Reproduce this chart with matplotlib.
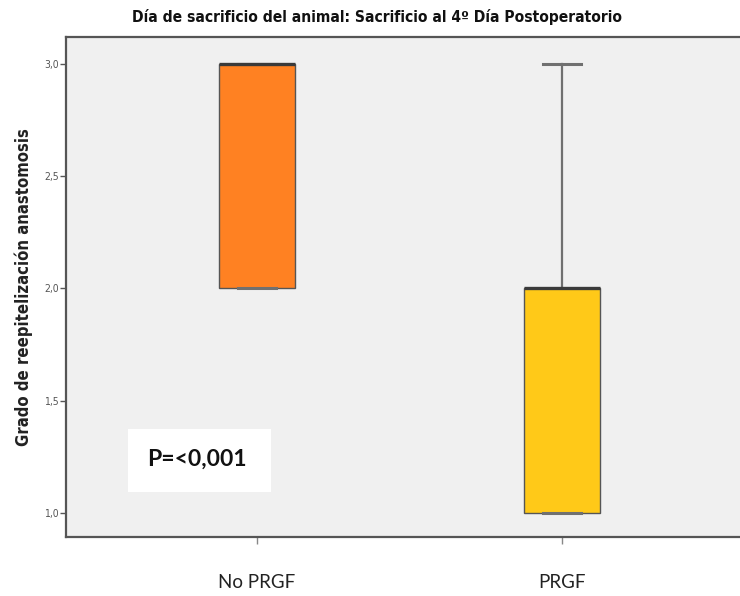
import matplotlib
matplotlib.use("Agg")
import matplotlib.pyplot as plt
from matplotlib.patches import FancyBboxPatch

# Grado de reepitelización por grupo (sacrificio al 4º día)
groups = ["No PRGF", "PRGF"]
q1 = [2.0, 1.0]
medians = [3.0, 2.0]
q3 = [3.0, 2.0]
whisker_low = [2.0, 1.0]
whisker_high = [3.0, 3.0]
box_colors = ["#FF8122", "#FFC918"]
yticks = [1.0, 1.5, 2.0, 2.5, 3.0]
ytick_labels = ["1,0", "1,5", "2,0", "2,5", "3,0"]

title = "Día de sacrificio del animal: Sacrificio al 4º Día Postoperatorio"
ylabel = "Grado de reepitelización anastomosis"
pvalue_text = "P=<0,001"

narrow = dict(family=["DejaVu Sans"], fontstretch="condensed")

fig = plt.figure(figsize=(7.4, 5.96), dpi=100)
fig.patch.set_facecolor("white")
ax = fig.add_axes([66 / 740, 1 - 537 / 596, 1 - 66 / 740, (537 - 37) / 596])
ax.set_facecolor("#F0F0F0")

stats = []
for i, g in enumerate(groups):
    stats.append(dict(label=g, q1=q1[i], med=medians[i], q3=q3[i],
                      whislo=whisker_low[i], whishi=whisker_high[i], fliers=[]))

positions = [1, 2]
bp = ax.bxp(stats, positions=positions, widths=0.25, patch_artist=True,
            showfliers=False,
            boxprops=dict(edgecolor="#555555", linewidth=1.0),
            whiskerprops=dict(color="#707070", linewidth=1.6),
            capprops=dict(color="#707070", linewidth=2.2),
            medianprops=dict(color="#3A3A3A", linewidth=2.4),
            capwidths=0.125, zorder=3)
for patch, c in zip(bp["boxes"], box_colors):
    patch.set_facecolor(c)

ax.set_xlim(0.374, 2.584)
ax.set_ylim(0.893, 3.12)

ax.set_yticks(yticks)
ax.set_yticklabels(ytick_labels, fontsize=7.5, color="#555555", **narrow)
ax.tick_params(axis="y", length=4, width=1, color="#555555", pad=1)
ax.set_xticks(positions)
ax.set_xticklabels(groups, fontsize=13.5, color="#222222",
                   family=["Lato", "DejaVu Sans"])
ax.tick_params(axis="x", length=5, width=1, color="#888888", pad=22)

for s in ["left", "bottom", "top"]:
    ax.spines[s].set_color("#555555")
    ax.spines[s].set_linewidth(1.6)
ax.spines["right"].set_visible(False)

ax.set_ylabel(ylabel, fontsize=12, fontweight="bold", color="#222222",
              labelpad=8, **narrow)
fig.text(377 / 740, 1 - 17 / 596, title, ha="center", va="center",
         fontsize=11.2, fontweight="bold", color="#111111", **narrow)

# P-value label in a white box inside the plot area
fig.patches.append(FancyBboxPatch((128 / 740, 1 - 492 / 596), (271 - 128) / 740,
                                  (492 - 429) / 596, boxstyle="square,pad=0",
                                  transform=fig.transFigure, facecolor="white",
                                  edgecolor="none", zorder=5))
fig.text(197 / 740, 1 - 459 / 596, pvalue_text, ha="center", va="center",
         fontsize=16.5, fontweight="bold", color="#111111",
         family=["Lato", "DejaVu Sans"], zorder=6)

fig.savefig("out.png", dpi=100)
